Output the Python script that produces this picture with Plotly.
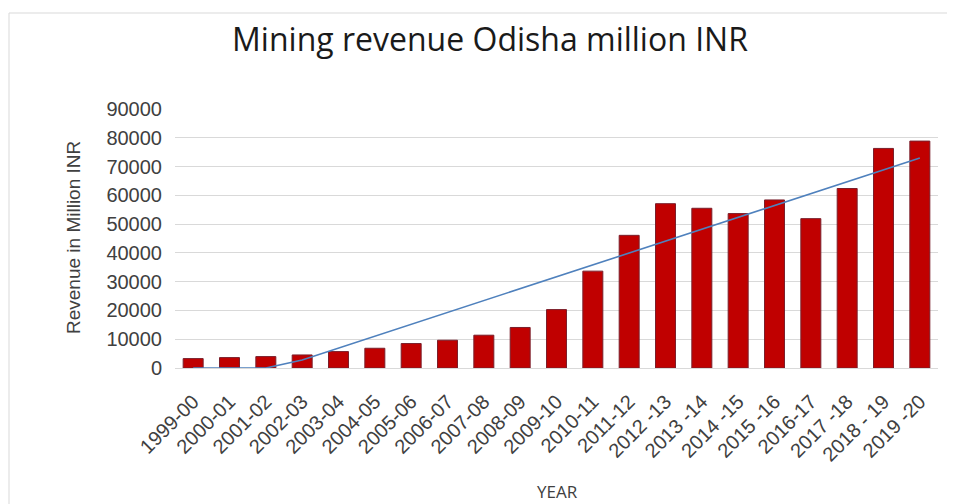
import numpy as np
import plotly.graph_objects as go

years = ["1999-00", "2000-01", "2001-02", "2002-03", "2003-04", "2004-05", "2005-06",
         "2006-07", "2007-08", "2008-09", "2009-10", "2010-11", "2011-12", "2012 -13",
         "2013 -14", "2014 -15", "2015 -16", "2016-17", "2017 -18", "2018 - 19", "2019 -20"]
revenue = [3270, 3620, 3970, 4530, 5710, 6860, 8500, 9650, 11400, 14080, 20300,
           33660, 46100, 57100, 55500, 53660, 58400, 51900, 62370, 76300, 78850]
y_ticks = [0, 10000, 20000, 30000, 40000, 50000, 60000, 70000, 80000, 90000]

# Linear trendline (as in Excel), clipped at the axis minimum
xi = np.arange(1, len(revenue) + 1)
slope, intercept = np.polyfit(xi, revenue, 1)
trend = np.maximum(slope * xi + intercept, 0)

# page body has an 8px margin: work in screen pixels and subtract it
OFF = 8
W, H = 955 - OFF, 504 - OFF
L, R, T, B = 175 - OFF, 938 - OFF, 109 - OFF, 368 - OFF

fig = go.Figure()
fig.add_trace(go.Bar(
    x=years, y=revenue,
    marker=dict(color="#C00000", line=dict(color="#7A1F2B", width=1)),
    showlegend=False,
))
fig.add_trace(go.Scatter(
    x=years, y=trend, mode="lines",
    line=dict(color="#4F81BD", width=1.6),
    showlegend=False,
))

def px_x(p):
    return (p - OFF - L) / (R - L)

def px_y(p):
    return (B - (p - OFF)) / (B - T)

fig.add_shape(type="rect", xref="paper", yref="paper",
              x0=px_x(9), x1=px_x(990), y0=px_y(540), y1=px_y(13),
              line=dict(color="#D9D9D9", width=1), layer="below")

fig.add_annotation(text="YEAR", xref="paper", yref="paper",
                   x=px_x(557), y=px_y(491), xanchor="center", yanchor="middle",
                   showarrow=False,
                   font=dict(family="Open Sans", size=17, color="#404040"))
fig.add_annotation(text="Revenue in Million INR", xref="paper", yref="paper",
                   x=px_x(73), y=px_y(238), xanchor="center", yanchor="middle",
                   textangle=-90, showarrow=False,
                   font=dict(family="Liberation Sans", size=19, color="#404040"))

fig.update_layout(
    width=W, height=H,
    margin=dict(l=L, r=W - R, t=T, b=H - B),
    paper_bgcolor="white", plot_bgcolor="white",
    bargap=0.45,
    title=dict(text="Mining revenue Odisha million INR", x=(490 - OFF) / W, xanchor="center",
               y=1 - (40 - OFF) / H, yanchor="middle",
               font=dict(family="Open Sans", size=32, color="#1a1a1a")),
    font=dict(family="Liberation Sans", color="#404040"),
)
fig.update_xaxes(
    type="category", automargin=False,
    tickangle=-45, tickfont=dict(size=20, color="#404040"),
    ticklabelstandoff=13,
    showline=True, linecolor="#D9D9D9", linewidth=1, ticks="",
    showgrid=False,
)
fig.update_yaxes(
    automargin=False,
    range=[0, 90000], tickvals=y_ticks, ticktext=[str(v) for v in y_ticks],
    tickfont=dict(size=20, color="#404040"),
    ticklabelstandoff=12,
    showgrid=True, gridcolor="#D9D9D9", gridwidth=1, zeroline=False,
    ticks="", ticklen=0,
)

fig.write_html("out.html")
